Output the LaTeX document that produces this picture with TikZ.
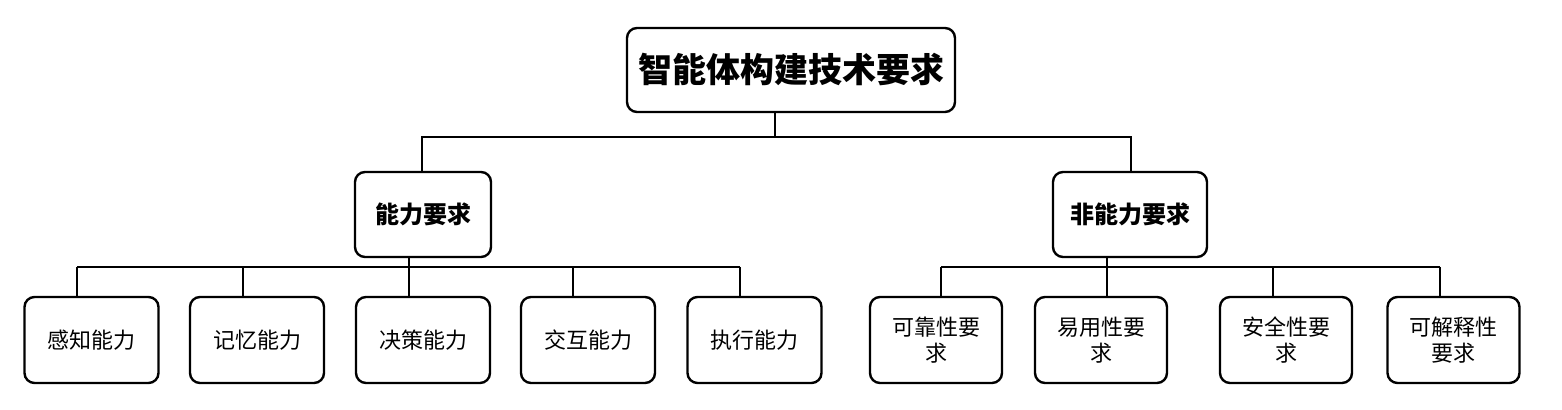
\documentclass[tikz,border=0pt]{standalone}
\usepackage{fontspec}
\setmainfont{Noto Sans CJK SC}
\begin{document}
\begin{tikzpicture}[x=0.5pt,y=-0.5pt,
 box/.style={draw,line width=1.2pt,rounded corners=5pt,align=center,font=\fontsize{11}{13}\selectfont},
 ln/.style={line width=0.9pt}]
\useasboundingbox (0,0) rectangle (1562,410);
\node[box,minimum width=164pt,minimum height=42pt,font=\bfseries\fontsize{17}{20}\selectfont] (root) at (791,70) {智能体构建技术要求};
\node[box,minimum width=68pt,minimum height=42.5pt,font=\bfseries\fontsize{12}{14}\selectfont] (a) at (423,214.5) {能力要求};
\node[box,minimum width=77pt,minimum height=42.5pt,font=\bfseries\fontsize{12}{14}\selectfont] (b) at (1130,214.5) {非能力要求};
\foreach \n/\x/\t in {a1/91.5/感知能力,a2/257/记忆能力,a3/423/决策能力,a4/588/交互能力,a5/754.5/执行能力}
  \node[box,minimum width=67pt,minimum height=43pt] (\n) at (\x,340) {\t};
\foreach \n/\x/\t in {b1/936/{可靠性要\\求},b2/1101/{易用性要\\求},b3/1286/{安全性要\\求},b4/1453.5/{可解释性\\要求}}
  \node[box,minimum width=66pt,minimum height=43pt,text width=56pt] (\n) at (\x,340) {\t};
\coordinate (rj) at (775,137);
\draw[ln] (root.south -| rj) -- (rj);
\draw[ln] (rj) -- (422,137) -- (422,172);
\draw[ln] (rj) -- (1131,137) -- (1131,172);
\coordinate (aj) at (409,267);
\draw[ln] (a.south -| aj) -- (aj);
\foreach \n/\x in {a1/77,a2/243,a3/409,a4/573,a5/740}
  \draw[ln] (\x,267) -- (\x,297);
\draw[ln] (77,267) -- (740,267);
\coordinate (bj) at (1107,267);
\draw[ln] (b.south -| bj) -- (bj);
\foreach \n/\x in {b1/941,b2/1107,b3/1273,b4/1440}
  \draw[ln] (\x,267) -- (\x,297);
\draw[ln] (941,267) -- (1440,267);
\end{tikzpicture}
\end{document}
